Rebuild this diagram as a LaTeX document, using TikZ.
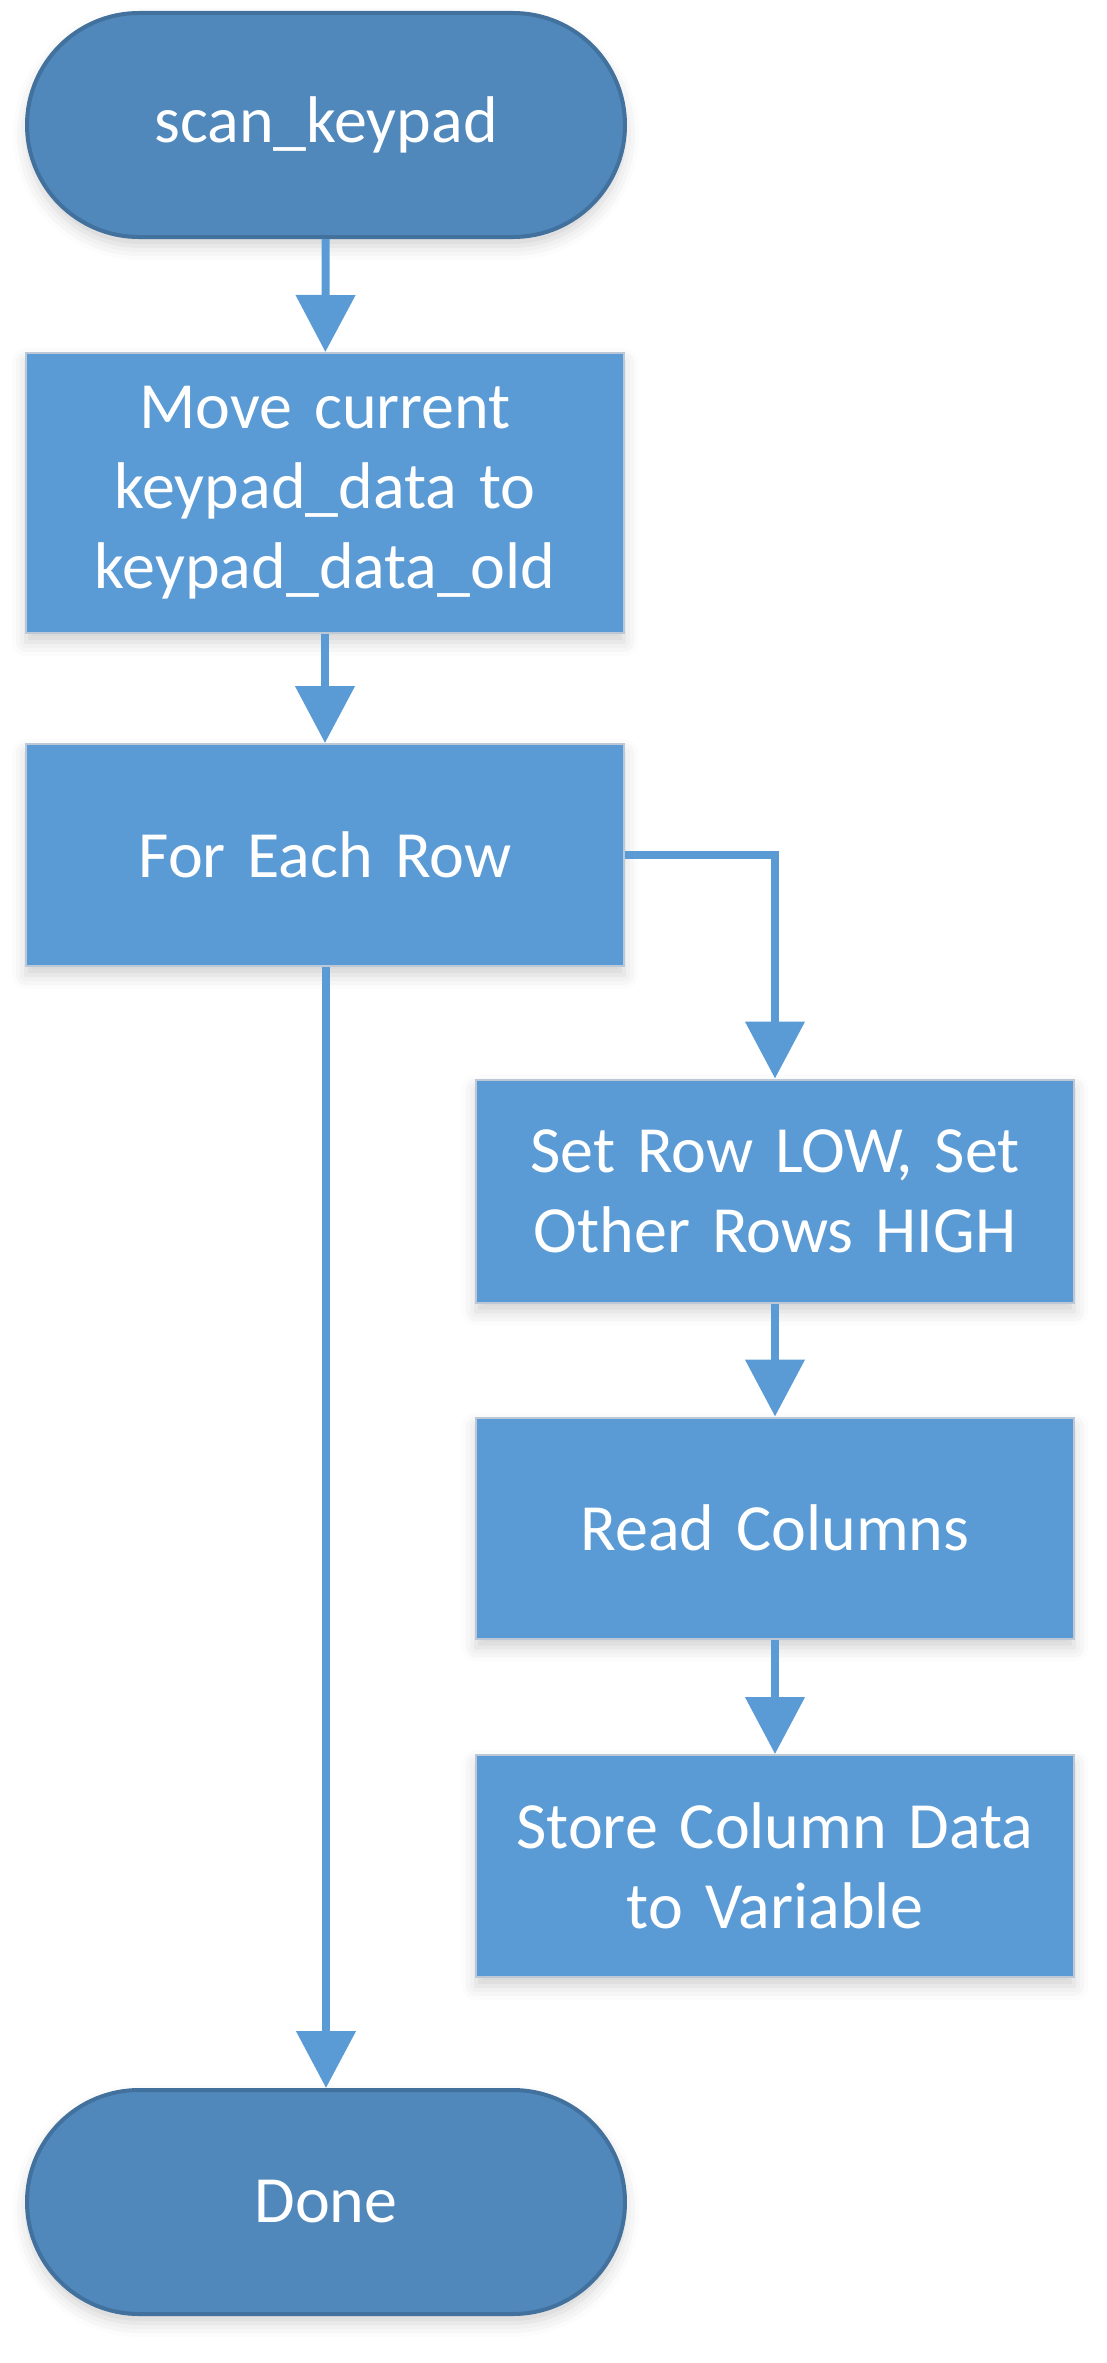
\documentclass[tikz,border=0pt]{standalone}
\usepackage{fontspec}
\setmainfont[WordSpace=0.8]{Carlito}
\usetikzlibrary{arrows.meta,shadows.blur}
\definecolor{boxblue}{HTML}{5B9BD5}
\definecolor{termfill}{HTML}{5088BC}
\definecolor{termline}{HTML}{41719C}
\definecolor{boxline}{HTML}{BCC8D6}
\begin{document}
\begin{tikzpicture}[x=1pt,y=-1pt,
  softshadow/.style={blur shadow={shadow xshift=0pt, shadow yshift=-9pt, shadow blur radius=14pt, shadow opacity=18}},
  procbox/.style={rectangle, fill=boxblue, draw=boxline, line width=2pt,
    minimum width=598pt, text width=570pt, align=center, text=white,
    font=\fontsize{66}{80}\selectfont, inner sep=0pt, softshadow},
  termbox/.style={rectangle, rounded corners=112pt, fill=termfill, draw=termline, line width=4pt,
    minimum width=598pt, minimum height=224pt, text width=500pt, align=center, text=white,
    font=\fontsize{66}{80}\selectfont, inner sep=0pt, softshadow},
  conn/.style={draw=boxblue, line width=8pt, -{Triangle[width=58pt,length=57pt]}}]
\useasboundingbox (0,0) rectangle (1106,2363);
\node[termbox] (start) at (326,125) {scan\_keypad};
\node[procbox, minimum height=280pt] (b1) at (325,493) {Move current\\keypad\_data to\\keypad\_data\_old};
\node[procbox, minimum height=222pt] (b2) at (325,855) {For Each Row};
\node[procbox, minimum height=223pt] (b3) at (775,1191) {Set Row LOW, Set\\Other Rows HIGH};
\node[procbox, minimum height=221pt] (b4) at (775,1528) {Read Columns};
\node[procbox, minimum height=222pt] (b5) at (775,1866) {Store Column Data\\to Variable};
\node[termbox] (done) at (326,2202) {Done};
\draw[conn] (start) -- (b1);
\draw[conn] (b1) -- (b2);
\draw[conn] (b2.east) -| (b3.north);
\draw[conn] (b3) -- (b4);
\draw[conn] (b4) -- (b5);
\draw[conn] (b2.south -| done.north) -- (done.north);
\end{tikzpicture}
\end{document}
